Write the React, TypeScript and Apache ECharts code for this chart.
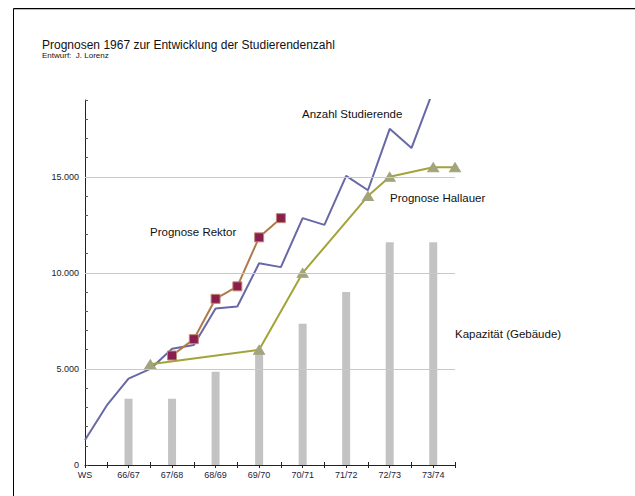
import React, { useEffect, useRef } from "react";
import * as echarts from "echarts";

const xLabels = ["WS", "66/67", "67/68", "68/69", "69/70", "70/71", "71/72", "72/73", "73/74"];

const studIdx = [0, 1, 2, 3, 4, 5, 6, 7, 8, 9, 10, 11, 12, 13, 14, 15, 16];
const studVals = [1300, 3100, 4500, 5000, 6050, 6250, 8150, 8250, 10500, 10300, 12850, 12500, 15050, 14300, 17500, 16500, 19500];

const rektorIdx = [4, 5, 6, 7, 8, 9];
const rektorVals = [5700, 6550, 8650, 9300, 11850, 12850];

const hallIdx = [3, 8, 10, 13, 14, 16, 17];
const hallVals = [5250, 6000, 10000, 14000, 15000, 15500, 15500];

const capIdx = [2, 4, 6, 8, 10, 12, 14, 16];
const capVals = [3450, 3450, 4850, 5900, 7350, 9000, 11600, 11600];

const gridValues = [5000, 10000, 15000];

const pairs = (xs: number[], ys: number[]) => xs.map((x, i) => [x, ys[i]]);

const FONT = "'Liberation Sans', Arial, sans-serif";

export default function App() {
  const ref = useRef<HTMLDivElement>(null);
  useEffect(() => {
    document.body.style.margin = "0";
    const chart = echarts.init(ref.current!, null, { renderer: "svg" });
    const xBase = {
      type: "value",
      min: 0,
      max: 17,
      interval: 1,
      position: "bottom",
      splitLine: { show: false },
    };
    chart.setOption({
      animation: false,
      backgroundColor: "#ffffff",
      textStyle: { fontFamily: FONT },
      grid: { left: 85, top: 100, right: 180, bottom: 31, containLabel: false },
      xAxis: [
        {
          ...xBase,
          axisLine: { lineStyle: { color: "#222", width: 1 } },
          axisTick: { length: 3, lineStyle: { color: "#222" } },
          axisLabel: {
            margin: 5,
            fontSize: 9,
            color: "#1c1c3c",
            fontFamily: FONT,
            showMaxLabel: true,
            formatter: (v: number) => (v % 2 === 0 ? xLabels[v / 2] ?? "" : ""),
          },
        },
        {
          ...xBase,
          offset: 0,
          axisLine: { show: false },
          axisTick: { show: true, inside: true, length: 3, lineStyle: { color: "#222" } },
          axisLabel: { show: false },
        },
      ],
      yAxis: {
        type: "value",
        min: 0,
        max: 19000,
        interval: 1000,
        axisLine: { show: true, lineStyle: { color: "#222", width: 1 } },
        axisTick: { show: true, inside: true, length: 3, lineStyle: { color: "#555" } },
        splitLine: { show: false },
        axisLabel: {
          margin: 6,
          fontSize: 9,
          color: "#222",
          fontFamily: FONT,
          formatter: (v: number) =>
            v % 5000 === 0 ? (v === 0 ? "0" : v / 1000 + ".000") : "",
        },
      },
      series: [
        {
          type: "bar",
          name: "Kapazität (Gebäude)",
          data: pairs(capIdx, capVals),
          barWidth: 8,
          itemStyle: { color: "#c3c3c3" },
          markLine: {
            silent: true,
            symbol: "none",
            label: { show: false },
            lineStyle: { color: "#c8c8c8", width: 1, type: "solid" },
            data: gridValues.map((v) => ({ yAxis: v })),
          },
          z: 1,
        },
        {
          type: "line",
          name: "Anzahl Studierende",
          data: pairs(studIdx, studVals),
          showSymbol: false,
          symbol: "none",
          clip: true,
          lineStyle: { color: "#6868a6", width: 2 },
          z: 2,
        },
        {
          type: "line",
          name: "Prognose Hallauer",
          data: pairs(hallIdx, hallVals),
          symbol: "triangle",
          symbolSize: [11, 9],
          lineStyle: { color: "#a3a33a", width: 2 },
          itemStyle: { color: "#a3a37c", borderColor: "#a3a37c" },
          z: 3,
        },
        {
          type: "line",
          name: "Prognose Rektor",
          data: pairs(rektorIdx, rektorVals),
          symbol: "rect",
          symbolSize: 9,
          lineStyle: { color: "#b07a48", width: 2 },
          itemStyle: { color: "#8a1f4e", borderColor: "#c08a70", borderWidth: 1 },
          z: 4,
        },
      ],
      graphic: [
        { type: "line", shape: { x1: 13.5, y1: 8.5, x2: 635, y2: 8.5 }, style: { stroke: "#000", lineWidth: 1 } },
        { type: "line", shape: { x1: 14, y1: 9.5, x2: 635, y2: 9.5 }, style: { stroke: "#bbb", lineWidth: 1 } },
        { type: "line", shape: { x1: 13.5, y1: 8.5, x2: 13.5, y2: 496 }, style: { stroke: "#000", lineWidth: 1 } },
        {
          type: "text",
          x: 42,
          y: 45,
          style: { text: "Prognosen 1967 zur Entwicklung der Studierendenzahl", fontSize: 12, fill: "#111", fontFamily: FONT, textVerticalAlign: "middle" },
        },
        {
          type: "text",
          x: 42,
          y: 55,
          style: { text: "Entwurf:  J. Lorenz", fontSize: 8, fill: "#111", fontFamily: FONT, textVerticalAlign: "middle" },
        },
        {
          type: "text",
          x: 302,
          y: 114,
          style: { text: "Anzahl Studierende", fontSize: 11.5, fill: "#111", fontFamily: FONT, textVerticalAlign: "middle" },
        },
        {
          type: "text",
          x: 150,
          y: 232,
          style: { text: "Prognose Rektor", fontSize: 11.5, fill: "#111", fontFamily: FONT, textVerticalAlign: "middle" },
        },
        {
          type: "text",
          x: 390,
          y: 198,
          style: { text: "Prognose Hallauer", fontSize: 11.5, fill: "#111", fontFamily: FONT, textVerticalAlign: "middle" },
        },
        {
          type: "text",
          x: 455,
          y: 334,
          style: { text: "Kapazität (Gebäude)", fontSize: 11.5, fill: "#111", fontFamily: FONT, textVerticalAlign: "middle" },
        },
      ],
    });
    return () => chart.dispose();
  }, []);
  return <div ref={ref} style={{ width: 635, height: 496 }} />;
}
